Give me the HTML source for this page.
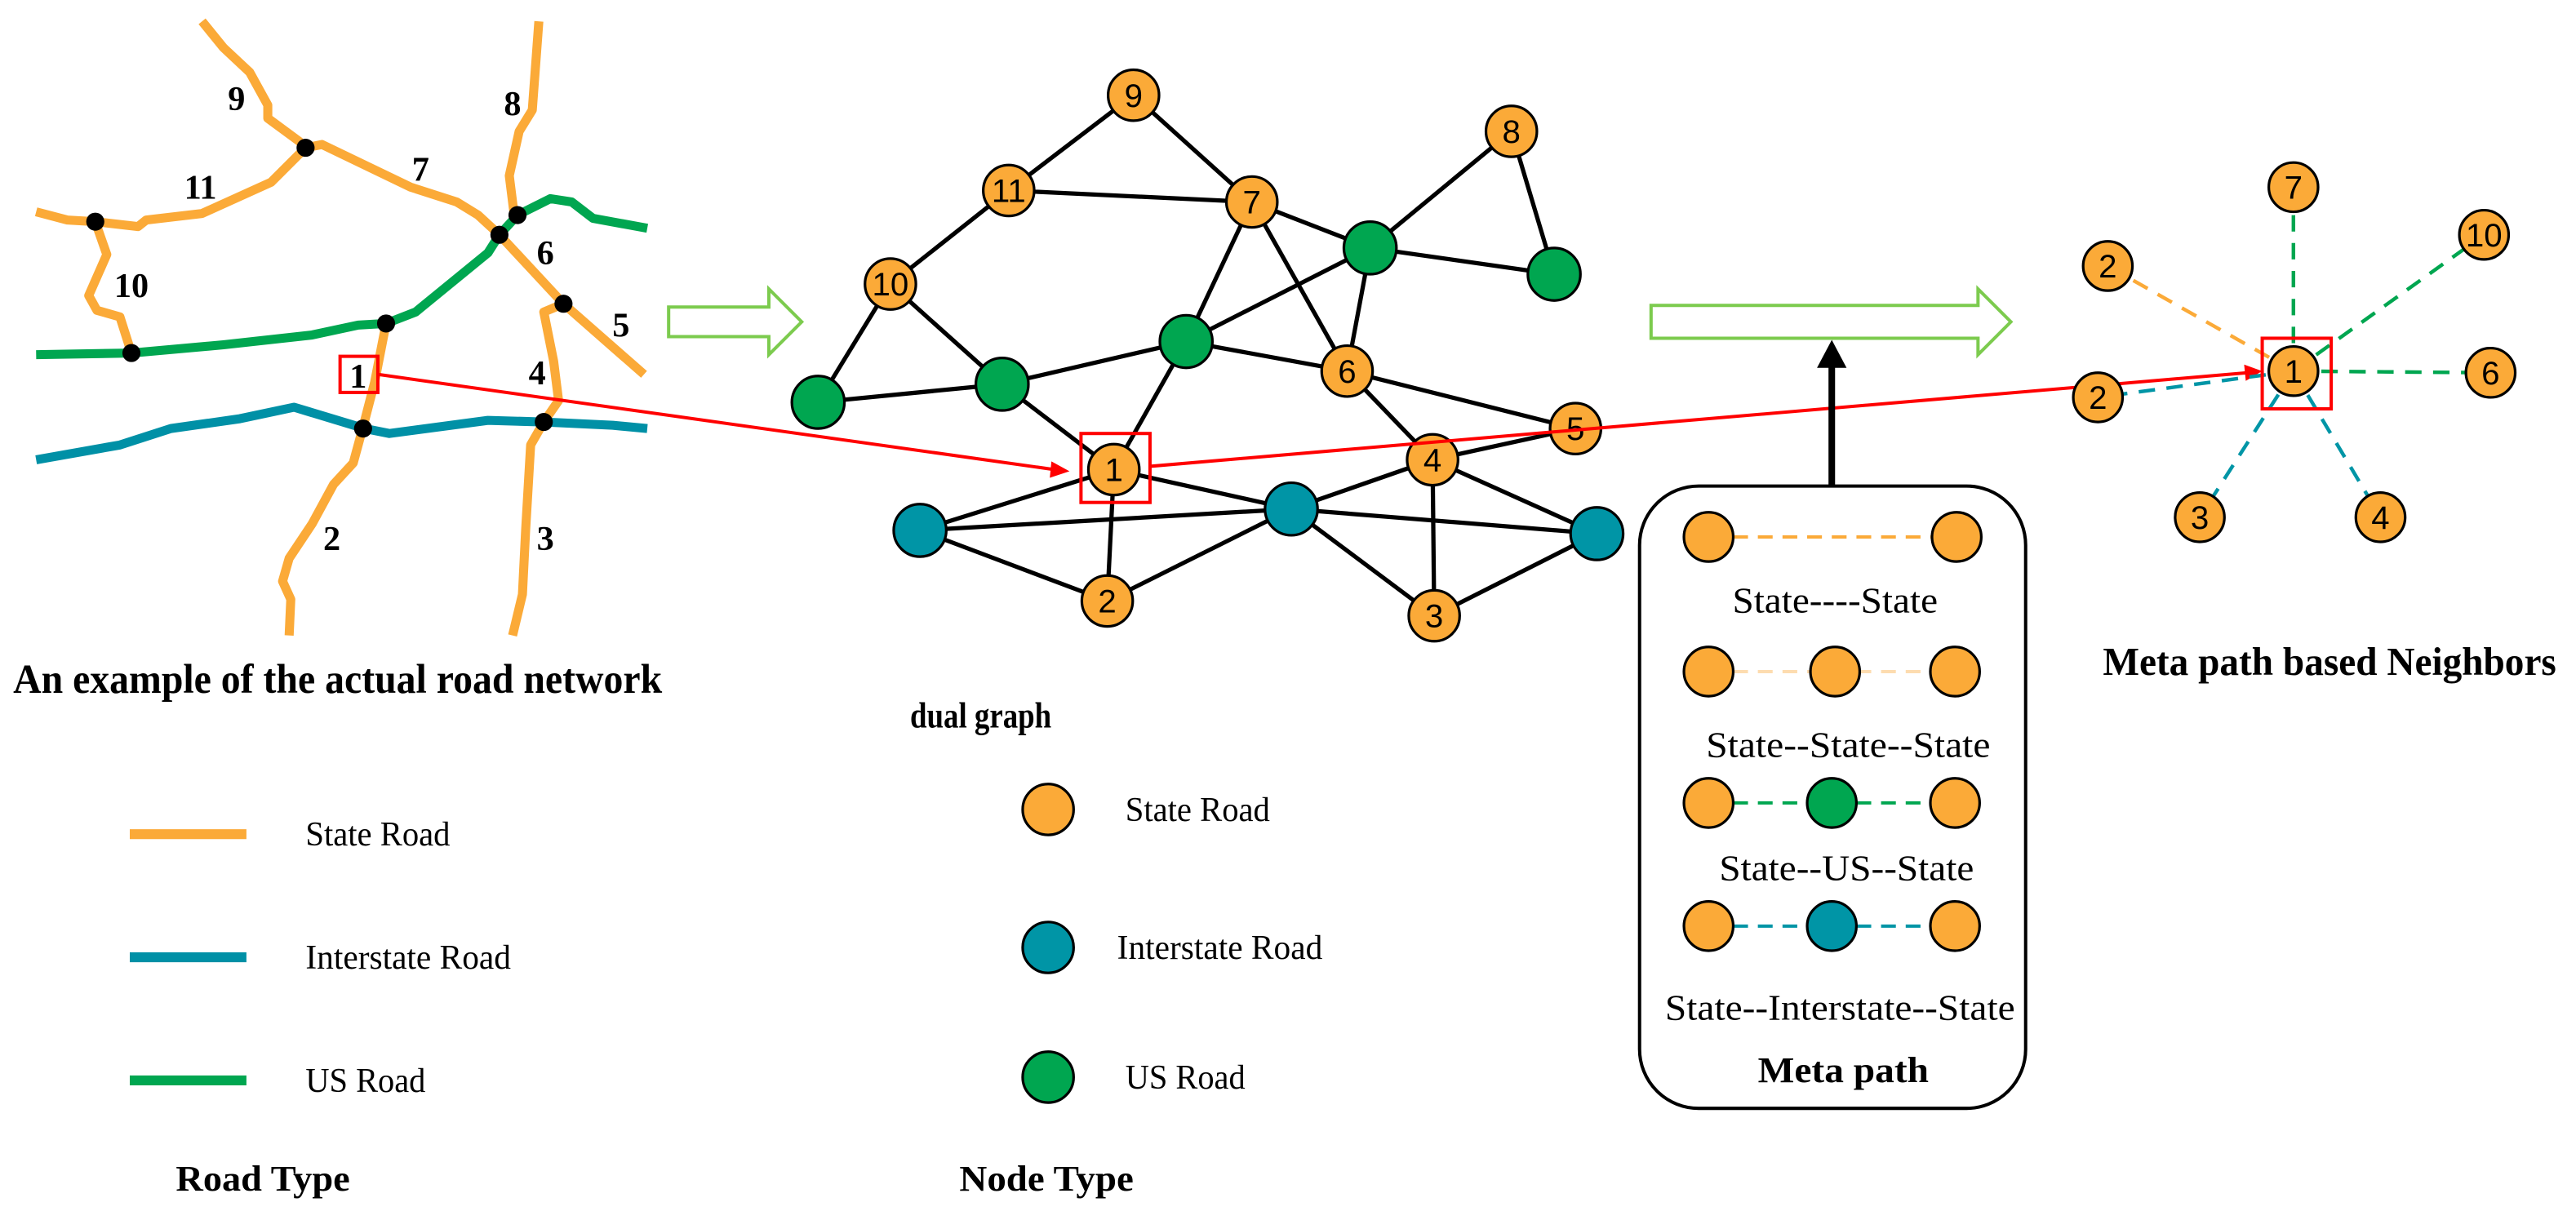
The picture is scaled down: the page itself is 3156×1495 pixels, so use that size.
<!DOCTYPE html>
<html><head><meta charset="utf-8"><style>
html,body{margin:0;padding:0;background:#fff;}
svg{display:block;}
.r{fill:none;stroke-linejoin:round;stroke-linecap:butt;stroke-width:5.5;}
.b{font-family:"Liberation Serif",serif;font-weight:bold;fill:#000;}
.s{font-family:"Liberation Serif",serif;fill:#000;}
.n{font-family:"Liberation Sans",sans-serif;fill:#000;text-anchor:middle;}
.e{stroke:#000;stroke-width:2.6;}
</style></head><body>
<svg width="3156" height="1495" viewBox="0 0 1568 743" preserveAspectRatio="none" xmlns="http://www.w3.org/2000/svg">
<rect width="1568" height="743" fill="#fff"/>
<g class="r">
<polyline stroke="#00A650" points="22,216 80,215 136,210 190,204 218,198 235,197 253,190 297,154 304,143 315,131 335,121 348,123 361,133 394,139"/>
<polyline stroke="#0090A6" points="22,280 73,271 104,261 146,255 179,248 222,261 237,264 297,256 331,257 373,259 394,261"/>
<g stroke="#FBAA38">
<polyline points="123,13 136,29 152,44 163,64 163,72 182,86 186,90 196,88 250,114 278,123 291,131 304,143 343,185 392,228"/>
<polyline points="22,129 41,134 58,135 84,138 89,134 123,130 165,111 186,90"/>
<polyline points="58,135 65,155 54,180 59,189 73,193 80,215"/>
<polyline points="328,13 324,67 316,80 310,107 313,131 315,131"/>
<polyline points="235,197 228,233 221,260 215,282 203,295 190,319 176,340 172,354 177,365 176,387"/>
<polyline points="343,185 331,190 337,220 340,244 331,257 323,271 320,322 318,362 312,387"/>
</g>
</g>
<g fill="#000">
<circle cx="58" cy="135" r="5.5"/><circle cx="186" cy="90" r="5.5"/><circle cx="80" cy="215" r="5.5"/>
<circle cx="235" cy="197" r="5.5"/><circle cx="304" cy="143" r="5.5"/><circle cx="315" cy="131" r="5.5"/>
<circle cx="343" cy="185" r="5.5"/><circle cx="221" cy="261" r="5.5"/><circle cx="331" cy="257" r="5.5"/>
</g>
<g class="b" font-size="21" text-anchor="middle">
<text x="144" y="67">9</text><text x="312" y="70">8</text><text x="256" y="110">7</text>
<text x="122" y="121">11</text><text x="332" y="161">6</text><text x="80" y="181">10</text>
<text x="378" y="205">5</text><text x="327" y="234">4</text><text x="218" y="236">1</text>
<text x="202" y="335">2</text><text x="332" y="335">3</text>
</g>
<rect x="207" y="217" width="23" height="22" fill="none" stroke="#f00" stroke-width="2"/>
<polygon points="407,187 468,187 468,176 488,196 468,216 468,205 407,205" fill="none" stroke="#7CCB4E" stroke-width="2"/>
<polygon points="1005,186 1204,186 1204,176 1224,196 1204,216 1204,206 1005,206" fill="none" stroke="#7CCB4E" stroke-width="2"/>
<g class="e">
<line x1="690" y1="58" x2="614" y2="116"/><line x1="690" y1="58" x2="762" y2="123"/><line x1="614" y1="116" x2="762" y2="123"/>
<line x1="614" y1="116" x2="542" y2="173"/><line x1="542" y1="173" x2="498" y2="245"/><line x1="542" y1="173" x2="610" y2="234"/>
<line x1="498" y1="245" x2="610" y2="234"/><line x1="610" y1="234" x2="722" y2="208"/><line x1="610" y1="234" x2="678" y2="286"/>
<line x1="722" y1="208" x2="678" y2="286"/><line x1="722" y1="208" x2="762" y2="123"/><line x1="722" y1="208" x2="834" y2="151"/>
<line x1="722" y1="208" x2="820" y2="226"/><line x1="762" y1="123" x2="834" y2="151"/><line x1="762" y1="123" x2="820" y2="226"/>
<line x1="834" y1="151" x2="920" y2="80"/><line x1="920" y1="80" x2="946" y2="167"/><line x1="834" y1="151" x2="946" y2="167"/>
<line x1="834" y1="151" x2="820" y2="226"/><line x1="820" y1="226" x2="959" y2="261"/><line x1="820" y1="226" x2="872" y2="280"/>
<line x1="872" y1="280" x2="959" y2="261"/><line x1="678" y1="286" x2="786" y2="310"/><line x1="678" y1="286" x2="560" y2="323"/>
<line x1="678" y1="286" x2="674" y2="366"/><line x1="560" y1="323" x2="786" y2="310"/><line x1="560" y1="323" x2="674" y2="366"/>
<line x1="674" y1="366" x2="786" y2="310"/><line x1="786" y1="310" x2="872" y2="280"/><line x1="786" y1="310" x2="972" y2="325"/>
<line x1="786" y1="310" x2="873" y2="375"/><line x1="872" y1="280" x2="873" y2="375"/><line x1="872" y1="280" x2="972" y2="325"/>
<line x1="873" y1="375" x2="972" y2="325"/>
</g>
<g stroke="#000" stroke-width="1.6">
<g fill="#FBAA38">
<circle cx="690" cy="58" r="15.5"/><circle cx="614" cy="116" r="15.5"/><circle cx="762" cy="123" r="15.5"/><circle cx="920" cy="80" r="15.5"/>
<circle cx="542" cy="173" r="15.5"/><circle cx="820" cy="226" r="15.5"/><circle cx="959" cy="261" r="15.5"/><circle cx="678" cy="286" r="15.5"/>
<circle cx="872" cy="280" r="15.5"/><circle cx="674" cy="366" r="15.5"/><circle cx="873" cy="375" r="15.5"/>
</g>
<g fill="#00A650">
<circle cx="834" cy="151" r="16"/><circle cx="946" cy="167" r="16"/><circle cx="722" cy="208" r="16"/><circle cx="610" cy="234" r="16"/><circle cx="498" cy="245" r="16"/>
</g>
<g fill="#0095A6">
<circle cx="560" cy="323" r="16"/><circle cx="786" cy="310" r="16"/><circle cx="972" cy="325" r="16"/>
</g>
</g>
<g class="n" font-size="20">
<text x="690" y="65">9</text><text x="614" y="123">11</text><text x="762" y="130">7</text><text x="920" y="87">8</text>
<text x="542" y="180">10</text><text x="820" y="233">6</text><text x="959" y="268">5</text><text x="678" y="293">1</text>
<text x="872" y="287">4</text><text x="674" y="373">2</text><text x="873" y="382">3</text>
</g>
<rect x="658" y="264" width="42" height="42" fill="none" stroke="#f00" stroke-width="2"/>
<line x1="230" y1="228" x2="642" y2="286" stroke="#f00" stroke-width="2"/>
<polygon points="651,287 640,281 639,291" fill="#f00"/>
<line x1="700" y1="284" x2="1368" y2="227" stroke="#f00" stroke-width="2"/>
<polygon points="1377,226 1366,222 1367,232" fill="#f00"/>
<line x1="1115" y1="296" x2="1115" y2="222" stroke="#000" stroke-width="4"/>
<polygon points="1115,207 1106,224 1124,224" fill="#000"/>
<rect x="998" y="296" width="235" height="379" rx="36" fill="none" stroke="#000" stroke-width="2"/>
<g stroke-width="2" stroke-dasharray="9,6">
<line x1="1040" y1="327" x2="1191" y2="327" stroke="#FBAA38"/>
<line x1="1040" y1="409" x2="1190" y2="409" stroke="#FDDCB0"/>
<line x1="1040" y1="489" x2="1190" y2="489" stroke="#00A650"/>
<line x1="1040" y1="564" x2="1190" y2="564" stroke="#0095A6"/>
</g>
<g stroke="#000" stroke-width="1.6" fill="#FBAA38">
<circle cx="1040" cy="327" r="15"/><circle cx="1191" cy="327" r="15"/>
<circle cx="1040" cy="409" r="15"/><circle cx="1117" cy="409" r="15"/><circle cx="1190" cy="409" r="15"/>
<circle cx="1040" cy="489" r="15"/><circle cx="1115" cy="489" r="15" fill="#00A650"/><circle cx="1190" cy="489" r="15"/>
<circle cx="1040" cy="564" r="15"/><circle cx="1115" cy="564" r="15" fill="#0095A6"/><circle cx="1190" cy="564" r="15"/>
</g>
<g class="s" font-size="22" text-anchor="middle">
<text x="1117" y="373" textLength="125" lengthAdjust="spacingAndGlyphs">State----State</text>
<text x="1125" y="461" textLength="173" lengthAdjust="spacingAndGlyphs">State--State--State</text>
<text x="1124" y="536" textLength="155" lengthAdjust="spacingAndGlyphs">State--US--State</text>
<text x="1120" y="621" textLength="213" lengthAdjust="spacingAndGlyphs">State--Interstate--State</text>
</g>
<text class="b" x="1122" y="659" font-size="22" text-anchor="middle" textLength="104" lengthAdjust="spacingAndGlyphs">Meta path</text>
<g stroke-width="2.2" stroke-dasharray="10,7">
<line x1="1396" y1="226" x2="1396" y2="114" stroke="#00A650"/>
<line x1="1396" y1="226" x2="1512" y2="143" stroke="#00A650"/>
<line x1="1396" y1="226" x2="1516" y2="227" stroke="#00A650"/>
<line x1="1396" y1="226" x2="1283" y2="162" stroke="#FBAA38"/>
<line x1="1396" y1="226" x2="1277" y2="242" stroke="#0095A6"/>
<line x1="1396" y1="226" x2="1339" y2="315" stroke="#0095A6"/>
<line x1="1396" y1="226" x2="1449" y2="315" stroke="#0095A6"/>
</g>
<g stroke="#000" stroke-width="1.6" fill="#FBAA38">
<circle cx="1396" cy="114" r="15"/><circle cx="1512" cy="143" r="15"/><circle cx="1283" cy="162" r="15"/>
<circle cx="1277" cy="242" r="15"/><circle cx="1516" cy="227" r="15"/><circle cx="1339" cy="315" r="15"/>
<circle cx="1449" cy="315" r="15"/><circle cx="1396" cy="226" r="15"/>
</g>
<g class="n" font-size="20">
<text x="1396" y="121">7</text><text x="1512" y="150">10</text><text x="1283" y="169">2</text><text x="1277" y="249">2</text>
<text x="1516" y="234">6</text><text x="1339" y="322">3</text><text x="1449" y="322">4</text><text x="1396" y="233">1</text>
</g>
<rect x="1377" y="206" width="42" height="43" fill="none" stroke="#f00" stroke-width="2"/>
<text class="b" x="8" y="422" font-size="25" textLength="395" lengthAdjust="spacingAndGlyphs">An example of the actual road network</text>
<text class="b" x="597" y="443" font-size="22" text-anchor="middle" textLength="86" lengthAdjust="spacingAndGlyphs">dual graph</text>
<text class="b" x="1280" y="411" font-size="24" textLength="276" lengthAdjust="spacingAndGlyphs">Meta path based Neighbors</text>
<line x1="79" y1="508" x2="150" y2="508" stroke="#FBAA38" stroke-width="6"/>
<line x1="79" y1="583" x2="150" y2="583" stroke="#0090A6" stroke-width="6"/>
<line x1="79" y1="658" x2="150" y2="658" stroke="#00A650" stroke-width="6"/>
<g class="s" font-size="21">
<text x="186" y="515" textLength="88" lengthAdjust="spacingAndGlyphs">State Road</text>
<text x="186" y="590" textLength="125" lengthAdjust="spacingAndGlyphs">Interstate Road</text>
<text x="186" y="665" textLength="73" lengthAdjust="spacingAndGlyphs">US Road</text>
<text x="685" y="500" textLength="88" lengthAdjust="spacingAndGlyphs">State Road</text>
<text x="680" y="584" textLength="125" lengthAdjust="spacingAndGlyphs">Interstate Road</text>
<text x="685" y="663" textLength="73" lengthAdjust="spacingAndGlyphs">US Road</text>
</g>
<text class="b" x="160" y="725" font-size="22" text-anchor="middle" textLength="106" lengthAdjust="spacingAndGlyphs">Road Type</text>
<text class="b" x="637" y="725" font-size="22" text-anchor="middle" textLength="106" lengthAdjust="spacingAndGlyphs">Node Type</text>
<g stroke="#000" stroke-width="1.6">
<circle cx="638" cy="493" r="15.5" fill="#FBAA38"/>
<circle cx="638" cy="577" r="15.5" fill="#0095A6"/>
<circle cx="638" cy="656" r="15.5" fill="#00A650"/>
</g>
</svg>
</body></html>
